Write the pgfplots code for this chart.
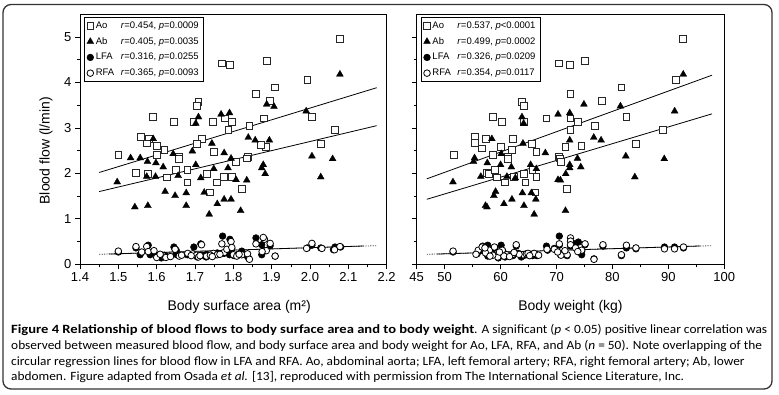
\documentclass[border=0pt]{standalone}
\usepackage{pgfplots}
\pgfplotsset{compat=1.18}
\usepackage{fontspec}
\setmainfont{Liberation Sans}
\newfontfamily\capfont{Carlito}

\pgfplotsset{
  myaxis/.style={
    scale only axis,
    width=306.7pt, height=250pt,
    anchor=south west,
    ymin=0, ymax=5.5,
    ytick={0,1,2,3,4,5},
    minor ytick={0.5,1.5,2.5,3.5,4.5},
    tick align=outside,
    xtick pos=bottom, ytick pos=left,
    major tick length=5pt, minor tick length=3pt,
    every tick/.style={black, line width=0.7pt},
    axis line style={line width=0.9pt},
    /pgf/number format/assume math mode=true,
    tick label style={font=\fontsize{13}{15}\selectfont},
    label style={font=\fontsize{14}{16}\selectfont},
    legend cell align=left,
    legend style={at={(0,1)}, anchor=north west, xshift=4pt, yshift=-3pt,
      font=\fontsize{9.5}{11}\selectfont, row sep=3.6pt, draw=black, line width=0.7pt,
      inner xsep=2.5pt, inner ysep=2pt,
      /tikz/every even column/.append style={column sep=2pt}},
    clip=false,
  },
  aostyle/.style={only marks, mark=square*, mark size=3.4pt, mark options={draw=black!85, fill=white, line width=0.8pt}},
  abstyle/.style={only marks, mark=triangle*, mark size=4pt, mark options={draw=black, fill=black, line width=0.3pt}},
  lfastyle/.style={only marks, mark=*, mark size=3.3pt, mark options={draw=black, fill=black, line width=0.6pt}},
  rfastyle/.style={only marks, mark=*, mark size=3.3pt, mark options={draw=black, fill=white, line width=0.8pt}},
  regline/.style={no marks, black, line width=0.8pt, forget plot},
  regdash/.style={no marks, black!70, line width=0.8pt, dash pattern=on 1.2pt off 1.2pt, forget plot},
}

\begin{document}
\begin{tikzpicture}
\path[use as bounding box] (0pt,0pt) rectangle (779pt,-395pt);
\draw[rounded corners=8pt, line width=1.3pt, black!80] (3pt,-4.5pt) rectangle (772pt,-389pt);

% ---------------- left panel ----------------
\begin{axis}[myaxis,
  at={(80pt,-264.3pt)},
  xmin=1.4, xmax=2.2,
  xtick={1.4,1.5,1.6,1.7,1.8,1.9,2.0,2.1,2.2},
  minor xtick={1.45,1.55,1.65,1.75,1.85,1.95,2.05,2.15},
  xticklabel style={/pgf/number format/.cd, fixed, fixed zerofill, precision=1},
  xlabel={Body surface area (m²)},
  ylabel={Blood flow (l/min)},
  xlabel style={at={(axis description cs:0.519,-0.17)}, anchor=center},
  ylabel style={at={(axis description cs:-0.111,0.4545)}, anchor=center},
]
\addplot[aostyle] coordinates {(2.078,4.95)(1.887,4.47)(1.771,4.42)(1.791,4.38)(1.993,4.05)(1.909,3.89)(1.859,3.74)(1.896,3.60)(1.709,3.57)(1.704,3.49)(1.591,3.25)(1.645,3.14)(1.696,3.14)(1.746,3.14)(1.778,3.21)(1.797,3.14)(2.005,3.25)(1.880,3.21)(1.842,3.04)(1.787,2.96)(2.064,2.96)(1.717,2.76)(1.704,2.65)(1.558,2.80)(1.580,2.76)(1.574,2.66)(1.600,2.60)(1.620,2.51)(1.884,2.59)(1.871,2.63)(2.029,2.65)(1.500,2.41)(1.600,2.41)(1.658,2.36)(1.750,2.47)(1.837,2.36)(1.659,2.32)(1.835,2.33)(1.806,2.26)(1.545,2.01)(1.578,1.98)(1.626,1.91)(1.650,2.08)(1.680,2.08)(1.680,1.80)(1.730,1.98)(1.758,1.80)(1.776,1.92)(1.797,1.92)(1.739,1.58)(1.822,1.66)};
\addlegendentry{\makebox[25pt][l]{Ao}\textit{r}=0.454, \textit{p}=0.0009}
\addplot[abstyle] coordinates {(2.078,4.18)(1.887,3.52)(1.906,3.47)(1.990,3.37)(1.709,3.24)(1.702,3.10)(1.768,3.30)(1.790,3.33)(1.839,2.79)(1.857,2.73)(1.894,2.73)(1.591,2.76)(1.744,2.66)(1.693,2.49)(1.776,2.45)(1.643,2.43)(1.557,2.34)(2.005,2.38)(2.059,2.32)(1.794,2.33)(1.497,1.81)(1.532,2.34)(1.576,2.26)(1.598,2.23)(1.702,2.19)(1.749,2.10)(1.878,2.19)(1.883,1.99)(1.874,2.12)(2.028,1.92)(1.574,1.93)(1.597,1.93)(1.617,2.14)(1.656,1.95)(1.715,1.90)(1.786,2.12)(1.807,1.86)(1.835,1.85)(1.622,1.60)(1.648,1.51)(1.677,1.57)(1.724,1.58)(1.758,1.33)(1.776,1.43)(1.794,1.43)(1.819,1.18)(1.737,1.10)(1.543,1.26)(1.577,1.29)(1.677,1.29)};
\addlegendentry{\makebox[25pt][l]{Ab}\textit{r}=0.405, \textit{p}=0.0035}
\addplot[lfastyle] coordinates {(1.500,0.27)(1.546,0.36)(1.557,0.21)(1.578,0.42)(1.583,0.21)(1.590,0.26)(1.602,0.19)(1.612,0.14)(1.624,0.18)(1.645,0.38)(1.651,0.31)(1.660,0.20)(1.680,0.21)(1.697,0.38)(1.706,0.16)(1.715,0.45)(1.718,0.20)(1.729,0.16)(1.743,0.19)(1.758,0.25)(1.772,0.62)(1.776,0.24)(1.791,0.55)(1.796,0.34)(1.802,0.19)(1.817,0.23)(1.822,0.29)(1.835,0.19)(1.859,0.58)(1.874,0.43)(1.874,0.21)(1.880,0.31)(1.896,0.41)(1.909,0.18)(1.993,0.36)(2.005,0.42)(2.028,0.36)(2.061,0.32)(2.065,0.38)(2.080,0.38)(1.650,0.22)(1.690,0.21)(1.730,0.22)(1.750,0.20)(1.780,0.27)(1.790,0.21)(1.840,0.13)(1.810,0.21)(1.880,0.56)(1.620,0.20)};
\addlegendentry{\makebox[25pt][l]{LFA}\textit{r}=0.316, \textit{p}=0.0255}
\addplot[rfastyle] coordinates {(1.500,0.29)(1.546,0.39)(1.561,0.27)(1.574,0.39)(1.578,0.28)(1.593,0.30)(1.600,0.15)(1.619,0.18)(1.624,0.15)(1.609,0.22)(1.648,0.33)(1.659,0.18)(1.681,0.24)(1.694,0.23)(1.704,0.20)(1.709,0.16)(1.717,0.43)(1.730,0.18)(1.748,0.24)(1.758,0.21)(1.770,0.45)(1.776,0.26)(1.783,0.33)(1.794,0.50)(1.796,0.37)(1.800,0.21)(1.809,0.18)(1.822,0.21)(1.837,0.23)(1.842,0.11)(1.859,0.45)(1.881,0.55)(1.878,0.59)(1.886,0.30)(1.896,0.46)(1.909,0.18)(1.991,0.35)(2.005,0.46)(2.031,0.35)(2.064,0.32)(2.078,0.39)(1.665,0.20)(1.690,0.19)(1.740,0.20)(1.765,0.22)(1.815,0.22)(1.745,0.17)(1.713,0.19)(1.636,0.17)(1.875,0.28)};
\addlegendentry{\makebox[25pt][l]{RFA}\textit{r}=0.365, \textit{p}=0.0093}
\addplot[regline] coordinates {(1.45,2.02)(2.174,3.885)};
\addplot[regline] coordinates {(1.45,1.60)(2.174,3.05)};
\addplot[regdash] coordinates {(1.45,0.22)(2.174,0.41)};
\addplot[regline] coordinates {(1.475,0.225)(2.14,0.403)};
\end{axis}

% ---------------- right panel ----------------
\begin{axis}[myaxis,
  at={(416.7pt,-264.3pt)},
  width=307.6pt,
  xmin=45, xmax=100,
  xtick={45,50,60,70,80,90,100},
  minor xtick={55,65,75,85,95},
  yticklabels={},
  xlabel={Body weight (kg)},
  xlabel style={at={(axis description cs:0.5,-0.17)}, anchor=center},
]
\addplot[aostyle] coordinates {(92.66,4.95)(70.45,4.42)(72.42,4.38)(75.05,4.47)(91.29,4.05)(81.61,3.89)(72.48,3.74)(78.15,3.60)(63.82,3.57)(64.18,3.49)(58.63,3.25)(60.24,3.14)(64.18,3.14)(68.18,3.21)(72.48,3.21)(73.85,3.14)(82.51,3.25)(76.84,3.04)(72.48,2.96)(89.02,2.96)(55.46,2.80)(55.34,2.67)(57.37,2.76)(62.21,2.76)(56.72,2.55)(60.12,2.58)(62.09,2.51)(65.60,2.65)(66.39,2.47)(71.58,2.58)(74.45,2.61)(84.18,2.65)(51.71,2.40)(58.63,2.41)(61.31,2.36)(70.45,2.36)(61.31,2.32)(70.57,2.33)(70.75,2.26)(57.62,2.01)(57.91,1.98)(59.05,2.08)(59.35,1.91)(60.72,1.80)(62.33,1.92)(64.12,1.98)(64.42,1.80)(65.67,2.08)(66.39,1.92)(66.21,1.58)(71.88,1.66)};
\addlegendentry{\makebox[25pt][l]{Ao}\textit{r}=0.537, \textit{p}<0.0001}
\addplot[abstyle] coordinates {(92.66,4.18)(81.43,3.48)(91.12,3.37)(74.90,3.52)(70.27,3.30)(72.36,3.33)(63.82,3.24)(64.12,3.10)(58.44,2.76)(64.00,2.66)(76.66,2.79)(77.97,2.73)(72.36,2.73)(68.00,2.45)(60.12,2.43)(55.34,2.34)(73.75,2.33)(82.39,2.38)(89.26,2.32)(51.48,1.81)(55.16,2.26)(57.62,2.23)(60.0,2.19)(61.92,2.14)(61.13,1.93)(62.63,1.90)(56.46,1.93)(65.37,2.19)(66.39,2.10)(70.27,1.86)(70.70,1.85)(71.65,1.99)(72.36,2.19)(72.36,2.12)(74.34,2.14)(84.0,1.92)(59.1,1.60)(58.8,1.51)(62.03,1.43)(60.60,1.33)(57.56,1.26)(57.3,1.29)(64.18,1.29)(63.9,1.57)(65.5,1.57)(66.3,1.43)(66.0,1.10)(71.6,1.18)};
\addlegendentry{\makebox[25pt][l]{Ab}\textit{r}=0.499, \textit{p}=0.0002}
\addplot[lfastyle] coordinates {(51.5,0.27)(55.8,0.23)(56.2,0.29)(57.7,0.42)(57.7,0.18)(58.3,0.28)(59.0,0.36)(59.6,0.14)(60.1,0.42)(60.4,0.29)(61.2,0.19)(62.2,0.19)(62.8,0.40)(63.7,0.16)(64.1,0.19)(64.7,0.21)(65.7,0.19)(66.5,0.19)(68.2,0.40)(68.4,0.31)(70.5,0.62)(70.5,0.42)(70.7,0.21)(71.9,0.19)(72.5,0.40)(73.9,0.49)(74.5,0.29)(74.5,0.21)(75.1,0.43)(76.7,0.12)(78.3,0.40)(81.6,0.19)(82.5,0.36)(84.2,0.34)(89.3,0.38)(91.1,0.38)(92.7,0.36)(58.5,0.22)(60.8,0.16)(63.2,0.24)(65.2,0.22)(71.2,0.24)(69.6,0.35)(73.2,0.45)(56.8,0.40)};
\addlegendentry{\makebox[25pt][l]{LFA}\textit{r}=0.326, \textit{p}=0.0209}
\addplot[rfastyle] coordinates {(51.5,0.29)(56.0,0.31)(56.7,0.38)(58.0,0.31)(58.9,0.38)(59.5,0.16)(60.3,0.31)(61.1,0.21)(62.1,0.21)(62.8,0.43)(64.0,0.21)(64.6,0.23)(65.6,0.21)(66.5,0.21)(68.3,0.33)(70.5,0.45)(70.8,0.20)(71.9,0.21)(72.5,0.58)(72.5,0.51)(72.5,0.43)(74.5,0.31)(75.1,0.45)(76.7,0.11)(78.3,0.43)(81.6,0.21)(82.5,0.42)(84.2,0.36)(89.3,0.34)(91.1,0.34)(92.7,0.38)(57.3,0.25)(58.6,0.20)(60.6,0.18)(63.3,0.22)(64.9,0.24)(66.0,0.24)(69.6,0.33)(71.5,0.30)(73.4,0.36)(57.2,0.36)(59.8,0.27)(61.6,0.17)(65.2,0.19)(62.4,0.26)(55.6,0.22)(58.1,0.18)(70.2,0.27)(73.8,0.28)(66.8,0.20)};
\addlegendentry{\makebox[25pt][l]{RFA}\textit{r}=0.354, \textit{p}=0.0117}
\addplot[regline] coordinates {(46.8,1.88)(97.8,4.16)};
\addplot[regline] coordinates {(46.8,1.43)(97.8,3.31)};
\addplot[regdash] coordinates {(46.8,0.22)(97.8,0.41)};
\addplot[regline] coordinates {(48.6,0.225)(95.7,0.403)};
\end{axis}

% ---------------- caption ----------------
\begin{scope}[every node/.style={anchor=base west, inner sep=0pt, xscale=1.06, font=\capfont\fontsize{12.6}{15}\selectfont}]
\node at (11pt,-334pt) {\scalebox{1.09}[1]{\textbf{Figure 4 Relationship of blood flows to body surface area and to body weight}}. A significant (\textit{p} {<} 0.05) positive linear correlation was};
\node at (11pt,-349.5pt) {observed between measured blood flow, and body surface area and body weight for Ao, LFA, RFA, and Ab (\textit{n} = 50). Note overlapping of the};
\node at (11pt,-365pt) {circular regression lines for blood flow in LFA and RFA. Ao, abdominal aorta; LFA, left femoral artery; RFA, right femoral artery; Ab, lower};
\node at (11pt,-380.5pt) {abdomen. Figure adapted from Osada \textit{et al.} [13], reproduced with permission from The International Science Literature, Inc.};
\end{scope}
\end{tikzpicture}
\end{document}
